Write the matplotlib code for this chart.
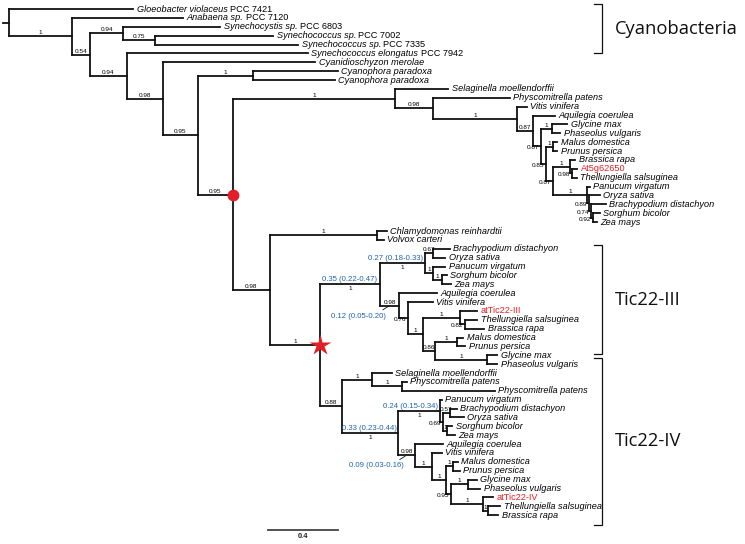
import matplotlib
matplotlib.use("Agg")
import matplotlib.pyplot as plt
from matplotlib.collections import LineCollection
from matplotlib.font_manager import FontProperties
from matplotlib.textpath import TextPath

# ── Tree data (Newick, branch lengths in substitutions/site) ─────────────────
# Internal labels are posterior supports; [&time=...] holds divergence-time
# estimates and [&event=...] marks the two duplication events.

TIC22_LIKE = (
    "('Selaginella moellendorffii':0.303,('Physcomitrella patens':0.44,"
    "('Vitis vinifera':0.057,('Aquilegia coerulea':0.126,"
    "(('Glycine max':0.086,'Phaseolus vulgaris':0.046)1:0.063,"
    "(('Malus domestica':0.023,'Prunus persica':0.023)1:0.04,"
    "(('Brassica rapa':0.029,('At5g62650':0.029,'Thellungiella salsuginea':0.029)0.98:0.011)1:0.097,"
    "('Panucum virgatum':0.017,('Oryza sativa':0.063,('Brachypodium distachyon':0.086,"
    "('Sorghum bicolor':0.04,'Zea mays':0.023)0.92:0.011)0.74:0.011)0.89:0.011)1:0.194"
    ")0.87:0.04)0.85:0.029)0.87:0.046)0.87:0.091)1:0.48)0.98:0.217)"
)

GREEN_ALGAE = "('Chlamydomonas reinhardtii':0.057,'Volvox carteri':0.04)"

TIC22_III = (
    "((('Brachypodium distachyon':0.097,'Oryza sativa':0.069)0.67:0.046,"
    "('Panucum virgatum':0.069,('Sorghum bicolor':0.029,'Zea mays':0.051)1:0.051)1:0.046"
    ")1[&time=0.27 (0.18-0.33)]:0.257,"
    "('Aquilegia coerulea':0.217,('Vitis vinifera':0.143,"
    "(('atTic22-III':0.097,('Thellungiella salsuginea':0.069,'Brassica rapa':0.109)0.82:0.029)1:0.211,"
    "(('Malus domestica':0.034,'Prunus persica':0.046)1:0.126,"
    "('Glycine max':0.057,'Phaseolus vulgaris':0.057)1:0.297)0.86:0.069)1:0.086"
    ")0.76:0.051)0.98[&time=0.12 (0.05-0.20)]:0.109)"
)

TIC22_IV = (
    "(('Selaginella moellendorffii':0.114,"
    "('Physcomitrella patens':0.029,'Physcomitrella patens':0.531)1:0.171)1:0.171,"
    "(('Panucum virgatum':0.011,(('Brachypodium distachyon':0.04,'Oryza sativa':0.08)0.57:0.04,"
    "('Sorghum bicolor':0.029,'Zea mays':0.046)1:0.023)0.69:0.017)1[&time=0.24 (0.15-0.34)]:0.24,"
    "('Aquilegia coerulea':0.16,('Vitis vinifera':0.057,"
    "(('Malus domestica':0.029,'Prunus persica':0.04)1:0.04,"
    "(('Glycine max':0.051,'Phaseolus vulgaris':0.069)1:0.097,"
    "('atTic22-IV':0.057,('Thellungiella salsuginea':0.069,'Brassica rapa':0.057)1:0.029)1:0.183"
    ")0.95:0.029)1:0.08)1:0.097)0.98[&time=0.09 (0.03-0.16)]:0.097"
    ")1[&time=0.33 (0.23-0.44)]:0.32)"
)

PLASTID = (
    "(" + TIC22_LIKE + "1:0.926,(" + GREEN_ALGAE + "1:0.611,("
    + TIC22_III + "1[&time=0.35 (0.22-0.47)]:0.343," + TIC22_IV + "0.88:0.126"
    ")1[&event=star]:0.286)0.98:0.211)"
)

TREE = (
    "('Gloeobacter violaceus PCC 7421':0.709,('Anabaena sp. PCC 7120':0.634,"
    "(('Synechocystis sp. PCC 6803':0.554,('Synechococcus sp. PCC 7002':0.674,"
    "'Synechococcus sp. PCC 7335':0.817)0.75:0.183)0.94:0.189,"
    "('Synechococcus elongatus PCC 7942':1.034,('Cyanidioschyzon merolae':0.869,"
    "(('Cyanophora paradoxa':0.486,'Cyanophora paradoxa':0.469)1:0.314,"
    + PLASTID + "0.95[&event=circle]:0.2)0.95:0.2)0.98:0.206)0.94:0.211)0.54:0.103)1:0.36):0.034;"
)

HIGHLIGHT = ["At5g62650", "atTic22-III", "atTic22-IV"]
CLADES = ["Cyanobacteria", "Tic22-III", "Tic22-IV"]
CLADE_SPANS = [(-0.6, 5.0), (26.6, 38.85), (39.3, 58.1)]   # in leaf rows
SCALE_LENGTH = 0.4

# ── Style ────────────────────────────────────────────────────────────────────
DPI = 100
PX_PER_UNIT = 175.0          # horizontal pixels per unit branch length
X0_PX, Y0_PX, ROW_PX = 3, 9, 8.88
SANS = "Liberation Sans"
LEAF_FS, SUP_FS, TIME_FS = 6.6, 4.6, 5.6
RED = "#e41e26"
BLUE = "#1f64b0"


def parse_newick(s):
    pos = 0

    def node():
        nonlocal pos
        n = {"children": [], "name": "", "len": 0.0, "meta": {}}
        if s[pos] == "(":
            pos += 1
            n["children"].append(node())
            while s[pos] == ",":
                pos += 1
                n["children"].append(node())
            pos += 1  # ')'
        if s[pos] == "'":
            end = s.index("'", pos + 1)
            n["name"] = s[pos + 1:end]
            pos = end + 1
        else:
            start = pos
            while s[pos] not in ":,)[;":
                pos += 1
            n["name"] = s[start:pos]
        if s[pos] == "[":
            end = s.index("]", pos)
            for item in s[pos + 2:end].split("|"):
                key, val = item.split("=", 1)
                n["meta"][key] = val
            pos = end + 1
        if s[pos] == ":":
            pos += 1
            start = pos
            while s[pos] not in ",);":
                pos += 1
            n["len"] = float(s[start:pos])
        return n

    return node()


def layout(n, parent_x, leaves, first=True):
    n["px"] = parent_x
    n["x"] = parent_x + n["len"]
    n["first"] = first
    if not n["children"]:
        n["y"] = len(leaves)
        leaves.append(n)
    else:
        for i, c in enumerate(n["children"]):
            layout(c, n["x"], leaves, i == 0)
        n["y"] = (n["children"][0]["y"] + n["children"][-1]["y"]) / 2


def walk(n):
    yield n
    for c in n["children"]:
        yield from walk(c)


def text_px(s, size, weight="normal"):
    path = TextPath((0, 0), s, size=size, prop=FontProperties(family=SANS, weight=weight))
    return path.get_extents().width * DPI / 72


root = parse_newick(TREE)
leaves = []
layout(root, 0.0, leaves)

fig = plt.figure(figsize=(7.45, 5.44), dpi=DPI)
ax = fig.add_axes([0, 0, 1, 1])
ax.set_xlim(-X0_PX / PX_PER_UNIT, (745 - X0_PX) / PX_PER_UNIT)
ax.set_ylim((544 - Y0_PX) / ROW_PX, -Y0_PX / ROW_PX)
ax.axis("off")

# Branches: one vertical per internal node, one horizontal per child.
segs = [[(0, root["y"]), (root["x"], root["y"])]]
for n in walk(root):
    if n["children"]:
        segs.append([(n["x"], n["children"][0]["y"]), (n["x"], n["children"][-1]["y"])])
        for c in n["children"]:
            segs.append([(n["x"], c["y"]), (c["x"], c["y"])])
ax.add_collection(LineCollection(segs, colors="#111111", linewidths=1.3,
                                 capstyle="projecting"))

# Leaf names: italic species, upright strain numbers, red Arabidopsis genes.
for leaf in leaves:
    name = leaf["name"]
    kw = dict(xy=(leaf["x"], leaf["y"]), xytext=(3.5, 0), textcoords="offset pixels",
              ha="left", va="center", fontsize=LEAF_FS, family=SANS)
    if name in HIGHLIGHT:
        ax.annotate(name, color=RED, **kw)
    elif " PCC " in name:
        species, strain = name.split(" PCC ")
        t = ax.annotate(species, style="italic", **kw)
        ax.annotate("PCC " + strain, xy=(1, 0), xycoords=t, xytext=(2.5, 0),
                    textcoords="offset pixels", ha="left", va="bottom",
                    fontsize=LEAF_FS, family=SANS)
    else:
        ax.annotate(name, style="italic", **kw)

# Support values and divergence times on the branches.
for n in walk(root):
    if not n["children"] or n is root:
        continue
    sup = n["name"]
    mid = (n["px"] + n["x"]) / 2
    bpx = n["len"] * PX_PER_UNIT
    time = n["meta"].get("time")
    sup_below = False
    if time:
        tw = text_px(time, TIME_FS)
        if bpx >= 30:
            if tw <= bpx:
                ax.annotate(time, xy=(mid, n["y"]), xytext=(0, 1), textcoords="offset pixels",
                            ha="center", va="bottom", fontsize=TIME_FS, color=BLUE, family=SANS)
            else:
                ax.annotate(time, xy=(n["x"], n["y"]), xytext=(-2, 1), textcoords="offset pixels",
                            ha="right", va="bottom", fontsize=TIME_FS, color=BLUE, family=SANS)
            sup_below = True
        else:
            ax.annotate(time, xy=(mid, n["y"]), xytext=(-3, -7), textcoords="offset pixels",
                        ha="right", va="top", fontsize=TIME_FS, color=BLUE, family=SANS,
                        arrowprops=dict(arrowstyle="-", lw=0.6, color="#111111",
                                        shrinkA=0, shrinkB=1, relpos=(0.85, 1)))
    if not sup:
        continue
    if sup_below:
        ax.annotate(sup, xy=(mid, n["y"]), xytext=(0, -2), textcoords="offset pixels",
                    ha="center", va="top", fontsize=SUP_FS, family=SANS)
    elif text_px(sup, SUP_FS) <= bpx + 1 or n["first"]:
        ax.annotate(sup, xy=(mid, n["y"]), xytext=(0, 1), textcoords="offset pixels",
                    ha="center", va="bottom", fontsize=SUP_FS, family=SANS)
    else:
        ax.annotate(sup, xy=(n["x"], n["y"]), xytext=(-2, 1), textcoords="offset pixels",
                    ha="right", va="top", fontsize=SUP_FS, family=SANS)

# Duplication events.
for n in walk(root):
    event = n["meta"].get("event")
    if event == "circle":
        ax.plot(n["x"], n["y"], "o", ms=8.5, color=RED, mec="none", zorder=5)
    elif event == "star":
        ax.plot(n["x"], n["y"], "*", ms=16, color=RED, mec="none", zorder=5)

# Clade brackets.
bx = (602 - X0_PX) / PX_PER_UNIT
tick = 8 / PX_PER_UNIT
for label, (top, bottom) in zip(CLADES, CLADE_SPANS):
    ax.plot([bx - tick, bx, bx, bx - tick], [top, top, bottom, bottom],
            color="#111111", lw=0.9, solid_joinstyle="miter")
    ax.text(bx + 13 / PX_PER_UNIT, (top + bottom) / 2, label, ha="left", va="center",
            fontsize=13.2, family="Open Sans", color="#111111")

# Scale bar.
sx = (268 - X0_PX) / PX_PER_UNIT
sy = (530 - Y0_PX) / ROW_PX
ax.plot([sx, sx + SCALE_LENGTH], [sy, sy], color="#444444", lw=1.3)
ax.annotate(f"{SCALE_LENGTH:g}", xy=(sx + SCALE_LENGTH / 2, sy), xytext=(0, -3),
            textcoords="offset pixels", ha="center", va="top", fontsize=5.4,
            fontweight="bold", family=SANS, color="#222222")

fig.savefig("out.png", dpi=DPI)
